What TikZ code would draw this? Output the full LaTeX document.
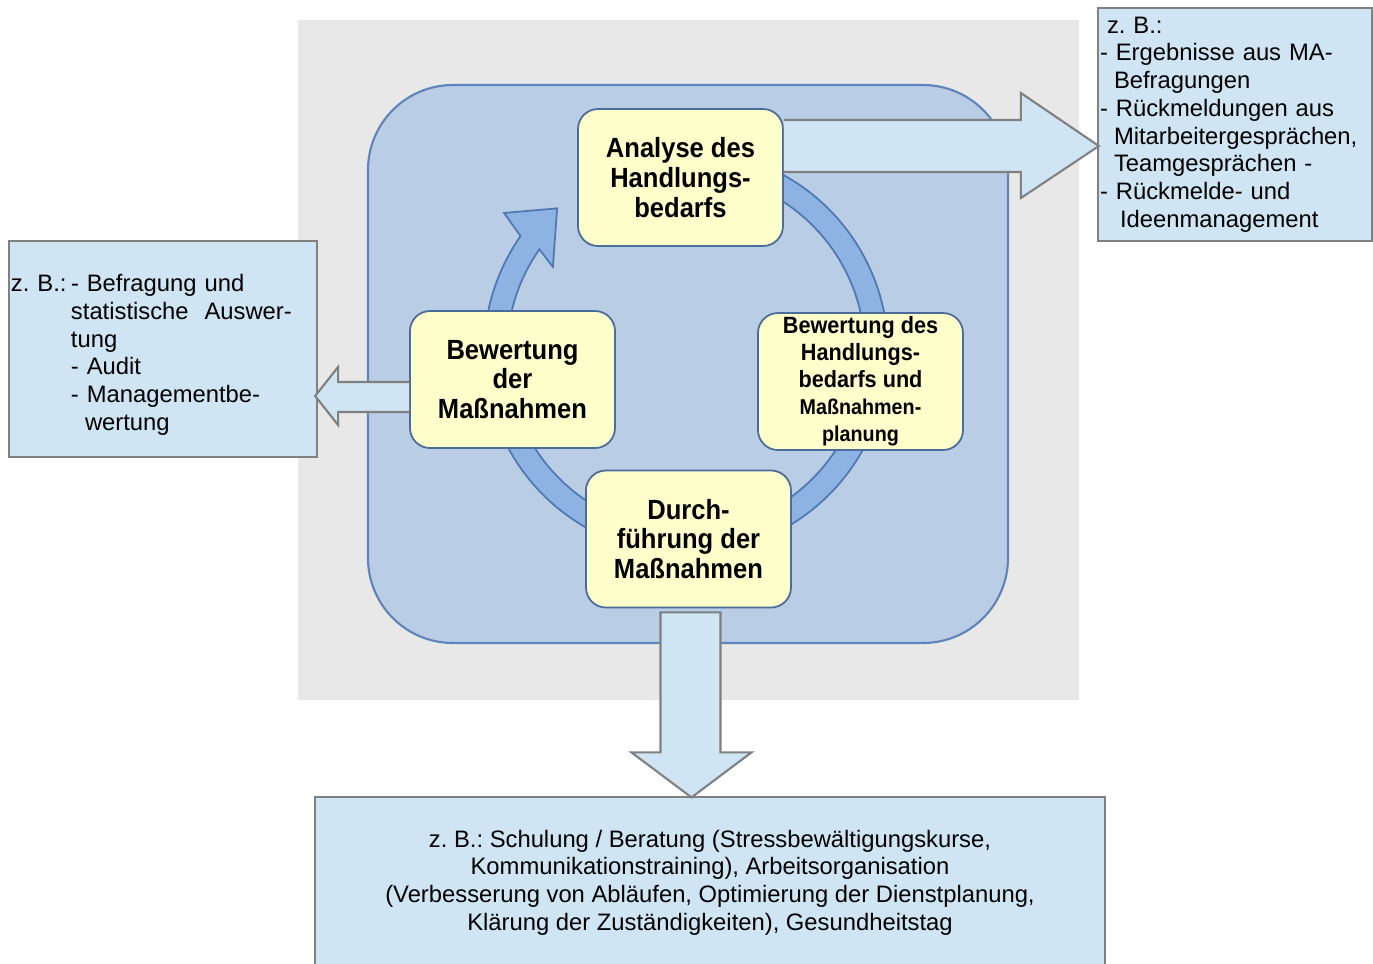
\documentclass[tikz,border=0pt]{standalone}
\usepackage{fontspec}
\setmainfont{Liberation Sans}
\newfontfamily\stagefont[FakeStretch=0.92]{Liberation Sans}
\usepackage{tikz}
\usetikzlibrary{calc}
\definecolor{bggray}{HTML}{E8E8E8}
\definecolor{framefill}{HTML}{B9CDE5}
\definecolor{frameline}{HTML}{5F84BA}
\definecolor{ringfill}{HTML}{8DB3E2}
\definecolor{ringline}{HTML}{4F78B5}
\definecolor{stagefill}{HTML}{FFFFCC}
\definecolor{stageline}{HTML}{4A6C9B}
\definecolor{notefill}{HTML}{CFE5F3}
\definecolor{noteline}{HTML}{808080}
\frenchspacing

\begin{document}
\begin{tikzpicture}
[stage/.style={rectangle,rounded corners=2mm,draw=stageline,fill=stagefill,line width=0.5pt,
   inner sep=0pt,minimum width=2.05cm,minimum height=1.37cm,align=center,
   font=\stagefont\bfseries\fontsize{7.9}{8.5}\selectfont},
 note/.style={rectangle,draw=noteline,fill=notefill,line width=0.6pt,inner xsep=0.2mm,
   inner ysep=0pt,font=\fontsize{6.77}{7.88}\selectfont},
 blockarrow/.style={draw=noteline,fill=notefill,line width=0.6pt,line join=miter}]
\clip (0,0) rectangle (13.73,-9.63);
% background and frame
\fill[bggray] (2.98,-0.20) rectangle (10.79,-7.00);
\draw[frameline,fill=framefill,line width=0.6pt,rounded corners=8.5mm]
  (3.68,-0.85) rectangle (10.08,-6.43);
% cycle arrow
\begin{scope}[shift={(6.86,-3.52)}]
\draw[ringline,fill=ringfill,line width=0.5pt,line join=miter]
  (75:2.02) arc[start angle=75,end angle=-215,radius=2.02]
  -- (142.6:2.29) -- (131.9:1.93) -- (147.4:1.58) -- (145:1.79)
  arc[start angle=-215,end angle=75,radius=1.79] -- cycle;
\end{scope}
% stages
\node[stage] (analyse) at (6.805,-1.775) {Analyse des\\Handlungs-\\bedarfs};
\node[stage,font=\stagefont\bfseries\fontsize{6.7}{7.7}\selectfont] (bewplan) at (8.605,-3.815)
  {Bewertung des\\Handlungs-\\bedarfs und\\
   {\fontsize{6.1}{7.7}\selectfont Maßnahmen-}\\{\fontsize{6.1}{7.7}\selectfont planung}};
\node[stage] (durch) at (6.885,-5.39) {Durch-\\führung der\\Maßnahmen};
\node[stage] (bewmass) at (5.125,-3.795) {Bewertung\\der\\Maßnahmen};
% examples
\node[note,minimum height=2.33cm,text width=2.70cm,align=left] (inputs) at (12.35,-1.245)
  {\hspace*{0.07cm}z. B.:\\
   - Ergebnisse aus MA-\\
   \hspace*{0.14cm}Befragungen\\
   - Rückmeldungen aus\\
   \hspace*{0.14cm}Mitarbeitergesprächen,\\
   \hspace*{0.14cm}Teamgesprächen -\\
   - Rückmelde- und\\
   \hspace*{0.20cm}Ideenmanagement};
\node[note,minimum height=2.16cm,text width=3.04cm,align=left] (checks) at (1.63,-3.49)
  {\rule{0pt}{8.3pt}\makebox[0.6cm][l]{z. B.:}- Befragung und\\
   \hspace*{0.6cm}statistische\ \ Auswer-\\
   \hspace*{0.6cm}tung\\
   \hspace*{0.6cm}- Audit\\
   \hspace*{0.6cm}- Managementbe-\\
   \hspace*{0.74cm}wertung};
\node[note,minimum width=7.90cm,minimum height=1.71cm,align=center] (tasks) at (7.10,-8.825)
  {z. B.: Schulung / Beratung (Stressbewältigungskurse,\\
   Kommunikationstraining), Arbeitsorganisation\\
   (Verbesserung von Abläufen, Optimierung der Dienstplanung,\\
   Klärung der Zuständigkeiten), Gesundheitstag};
% block arrows
\draw[blockarrow] ($(analyse.east)+(0,0.575)$) -- ++(2.37,0) -- ++(0,0.27)
  -- ++(0.78,-0.53) -- ++(-0.78,-0.52) -- ++(0,0.26) -- ++(-2.37,0);
\draw[blockarrow] ($(bewmass.west)+(0,-0.025)$) -- ++(-0.71,0) -- ++(0,0.15)
  -- ++(-0.23,-0.29) -- ++(0.23,-0.29) -- ++(0,0.13) -- ++(0.71,0);
\draw[blockarrow] ($(durch.south)+(-0.28,-0.04)$) -- ++(0,-1.40) -- ++(-0.29,0)
  -- ++(0.60,-0.45) -- ++(0.60,0.45) -- ++(-0.31,0) -- ++(0,1.40) -- cycle;
\end{tikzpicture}
\end{document}
